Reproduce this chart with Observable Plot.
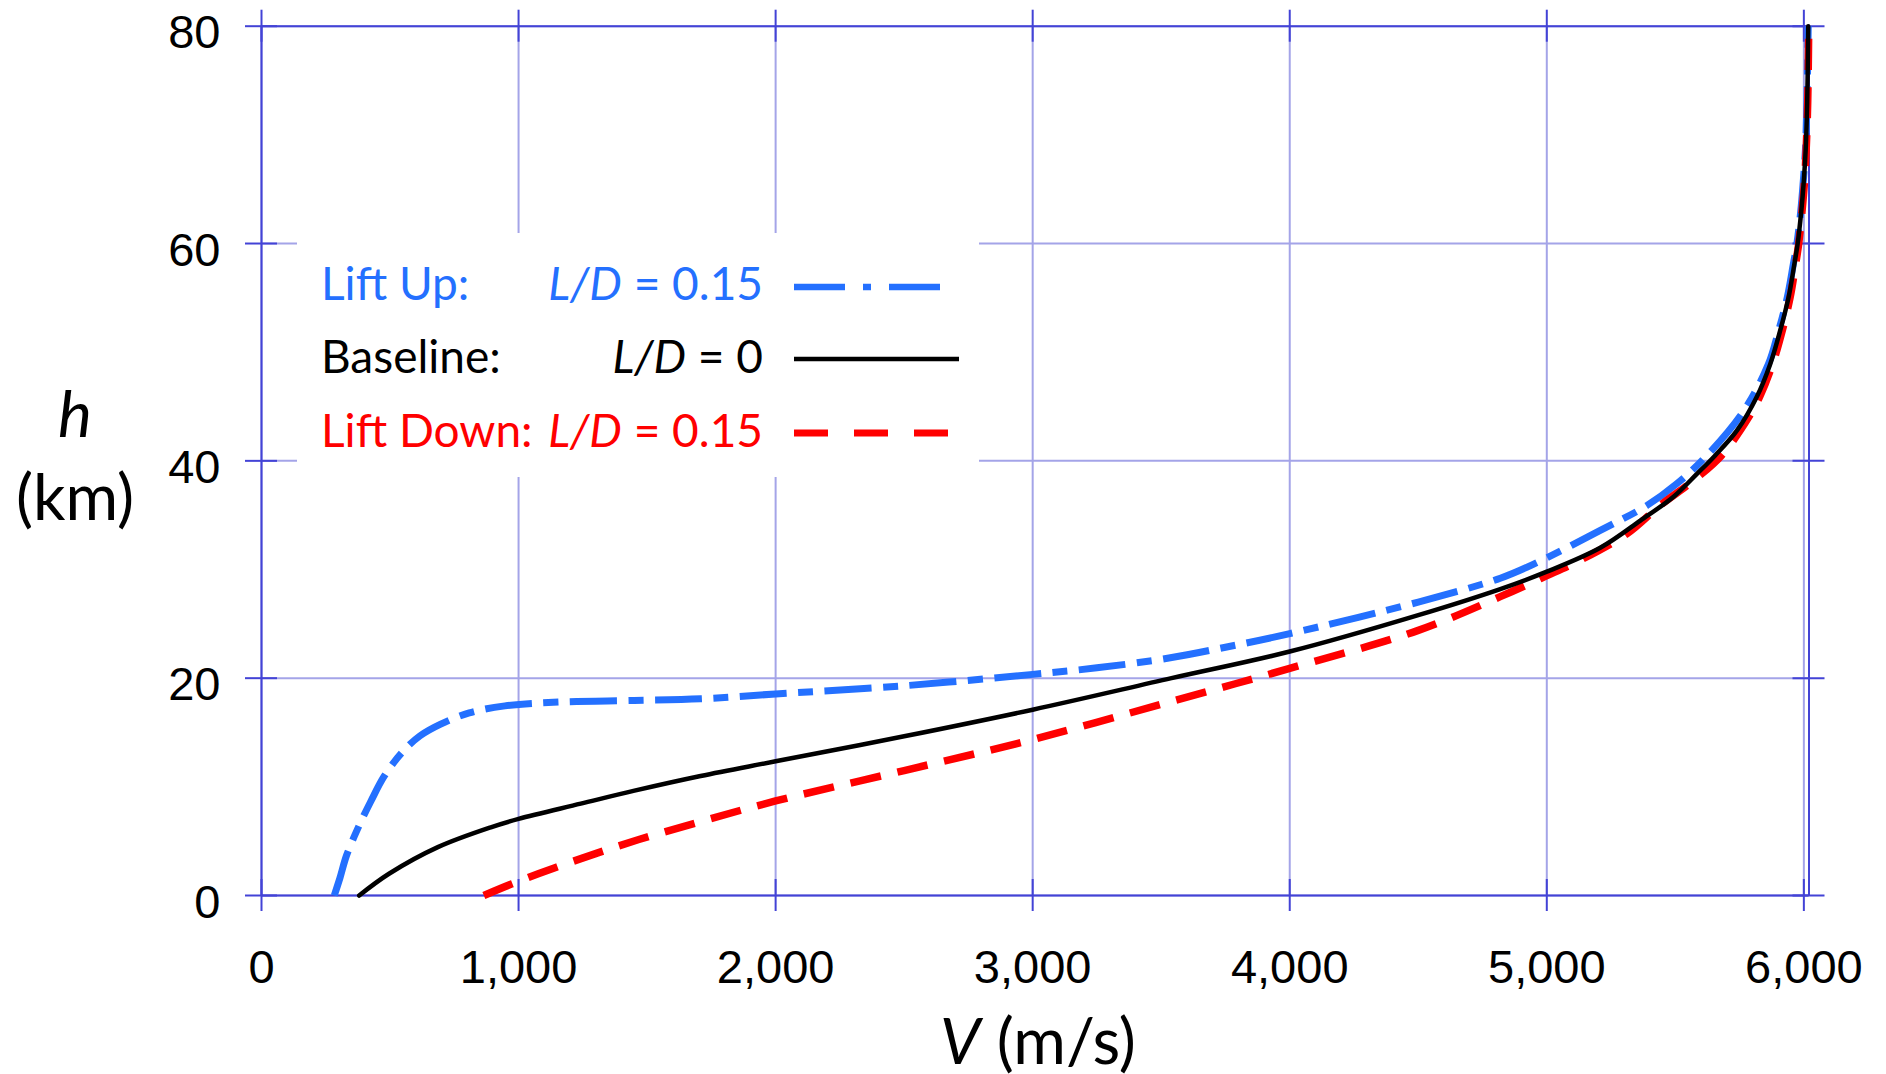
<!DOCTYPE html>
<html><head><meta charset="utf-8">
<script src="https://cdn.jsdelivr.net/npm/d3@7"></script>
<script src="https://cdn.jsdelivr.net/npm/@observablehq/plot@0.6"></script>
<style>
html,body{margin:0;padding:0;background:#fff;}
#chart{width:1886px;height:1074px;}
</style></head><body><div id="chart"></div>
<script>
// ---- data ----
const xTicks = [0, 1000, 2000, 3000, 4000, 5000, 6000];
const yTicks = [0, 20, 40, 60, 80];

const liftUpV = [283, 305, 331, 383, 426, 478, 548, 617, 695, 808, 947, 1155, 1450, 1708, 2000, 2500, 3000, 3250, 3530, 3750, 4000, 4500, 4819, 4949, 5208, 5390, 5506, 5623, 5766, 5862, 5902, 5936, 5959, 5973, 5988, 5997, 6006, 6012, 6017];
const liftUpH = [0, 1.6, 3.7, 6.6, 8.7, 11.0, 13.2, 14.7, 15.75, 16.8, 17.45, 17.8, 17.95, 18.1, 18.55, 19.3, 20.35, 20.95, 21.85, 22.85, 24.1, 27.0, 29.2, 30.5, 33.6, 35.9, 37.9, 40.5, 44.6, 48.9, 52.0, 55.1, 58.1, 60, 63, 65.5, 68.6, 73, 80];

const baselineV = [380, 496, 686, 895, 1000, 1242, 1451, 1708, 2000, 2500, 3000, 3540, 4000, 4500, 4819, 5000, 5208, 5364, 5493, 5584, 5655, 5740, 5817, 5869, 5908, 5941, 5963, 5976, 5990, 5999, 6007, 6013, 6017];
const baselineH = [0, 2.0, 4.45, 6.3, 7.05, 8.45, 9.65, 11.0, 12.35, 14.65, 17.1, 20.0, 22.45, 25.8, 28.2, 29.8, 32.0, 34.5, 36.7, 38.8, 40.5, 42.8, 45.9, 48.9, 52.0, 55.1, 58.1, 60, 63, 65.5, 68.6, 73, 80];

const liftDownV = [865, 972, 1147, 1311, 1468, 1708, 2000, 2500, 3000, 3530, 4000, 4500, 4819, 4988, 5117, 5312, 5441, 5571, 5680, 5785, 5830, 5878, 5916, 5947, 5968, 5980, 5993, 6002, 6009, 6015, 6019];
const liftDownH = [0, 1.05, 2.6, 3.95, 5.15, 6.8, 8.7, 11.5, 14.35, 17.8, 20.9, 24.4, 27.5, 29.3, 30.7, 33.3, 35.9, 38.2, 40.5, 44.0, 46.0, 48.9, 52.0, 55.1, 58.1, 60, 63, 65.5, 68.6, 73, 80];

const seriesNames = ["Lift Up", "Baseline", "Lift Down"];
const legendLabels = ["Lift Up:", "Baseline:", "Lift Down:"];
const legendValues = [" = 0.15", " = 0", " = 0.15"];
const seriesColors = ["#2470ff", "#000000", "#ff0000"];

// ---- build table ----
const seriesV = [liftUpV, baselineV, liftDownV];
const seriesH = [liftUpH, baselineH, liftDownH];
const rows = seriesNames.flatMap((name, k) => seriesV[k].map((v, i) => ({series: name, v, h: seriesH[k][i]})));

const X_MAX = 6020;
const frameColor = "#4343d6";
const gridColor = "#a4a4e8";
const tickFont = "'Liberation Sans', Arial, sans-serif";
const textFont = "Lato, 'Open Sans', sans-serif";

const svgPlot = Plot.plot({
  width: 1886, height: 1074,
  marginLeft: 261, marginRight: 77.5, marginTop: 25.7, marginBottom: 179,
  x: {domain: [0, X_MAX]},
  y: {domain: [0, 80]},
  style: {background: "white", fontFamily: tickFont, fontSize: "47px", color: "black"},
  marks: [
    Plot.ruleX(xTicks, {y1: 0, y2: 80, stroke: gridColor, strokeWidth: 2}),
    Plot.ruleY(yTicks, {x1: 0, x2: X_MAX, stroke: gridColor, strokeWidth: 2}),
    Plot.ruleX([0, X_MAX], {y1: 0, y2: 80, stroke: frameColor, strokeWidth: 2}),
    Plot.ruleY([0, 80], {x1: 0, x2: X_MAX, stroke: frameColor, strokeWidth: 2}),
    Plot.ruleY(yTicks, {x1: 0, x2: 0, insetLeft: -16, insetRight: -16, stroke: frameColor, strokeWidth: 2}),
    Plot.ruleY(yTicks, {x1: X_MAX, x2: X_MAX, insetLeft: -16, insetRight: -16, stroke: frameColor, strokeWidth: 2}),
    Plot.ruleX(xTicks, {y1: 0, y2: 0, insetTop: -16, insetBottom: -16, stroke: frameColor, strokeWidth: 2}),
    Plot.ruleX(xTicks, {y1: 80, y2: 80, insetTop: -16, insetBottom: -16, stroke: frameColor, strokeWidth: 2}),
    Plot.axisX({ticks: xTicks, tickSize: 0, tickPadding: 54, tickFormat: d3.format(","), label: null, fontSize: 47, fontFamily: tickFont}),
    Plot.axisY({ticks: yTicks, tickSize: 0, tickPadding: 41, dy: 7, label: null, fontSize: 47, fontFamily: tickFont}),
    Plot.line(rows, {filter: d => d.series === "Lift Up", x: "v", y: "h", stroke: seriesColors[0], strokeWidth: 7, strokeDasharray: "47 11.5 15 11.5", strokeLinecap: "butt", curve: "catmull-rom"}),
    Plot.line(rows, {filter: d => d.series === "Lift Down", x: "v", y: "h", stroke: seriesColors[2], strokeWidth: 7.5, strokeDasharray: "31 17", strokeLinecap: "butt", curve: "catmull-rom"}),
    Plot.line(rows, {filter: d => d.series === "Baseline", x: "v", y: "h", stroke: seriesColors[1], strokeWidth: 4.5, curve: "catmull-rom"})
  ]
});
document.getElementById("chart").appendChild(svgPlot);

const svg = d3.select(svgPlot);

// axis titles
const tx = svg.append("text").attr("x", 1038).attr("y", 1064).attr("text-anchor", "middle")
  .attr("font-family", textFont).attr("font-size", 64).attr("fill", "black");
tx.append("tspan").attr("font-style", "italic").text("V");
tx.append("tspan").text(" (m/s)");
svg.append("text").attr("x", 75).attr("y", 437).attr("text-anchor", "middle")
  .attr("font-family", textFont).attr("font-size", 64).attr("font-style", "italic").attr("fill", "black").text("h");
svg.append("text").attr("x", 75).attr("y", 520).attr("text-anchor", "middle")
  .attr("font-family", textFont).attr("font-size", 64).attr("fill", "black").text("(km)");

// legend
const lg = svg.append("g").attr("font-family", textFont).attr("font-size", 46);
lg.append("rect").attr("x", 297).attr("y", 233).attr("width", 682).attr("height", 244).attr("fill", "white");
const rowBase = [300, 373, 447];
const rowLine = [287, 359, 433];
const dashes = ["51 18 8 18", null, "34 26"];
const lineEnds = [941, 959, 948];
const widths = [6.5, 4.5, 7];
seriesNames.forEach((name, k) => {
  lg.append("text").attr("x", 321).attr("y", rowBase[k]).attr("text-anchor", "start").attr("fill", seriesColors[k]).text(legendLabels[k]);
  const t = lg.append("text").attr("x", 763).attr("y", rowBase[k]).attr("text-anchor", "end").attr("fill", seriesColors[k]);
  t.append("tspan").attr("font-style", "italic").text("L/D");
  t.append("tspan").text(legendValues[k]);
  const ln = lg.append("line").attr("x1", 794).attr("x2", lineEnds[k]).attr("y1", rowLine[k]).attr("y2", rowLine[k])
    .attr("stroke", seriesColors[k]).attr("stroke-width", widths[k]);
  if (dashes[k]) ln.attr("stroke-dasharray", dashes[k]);
});
</script>
</body></html>
